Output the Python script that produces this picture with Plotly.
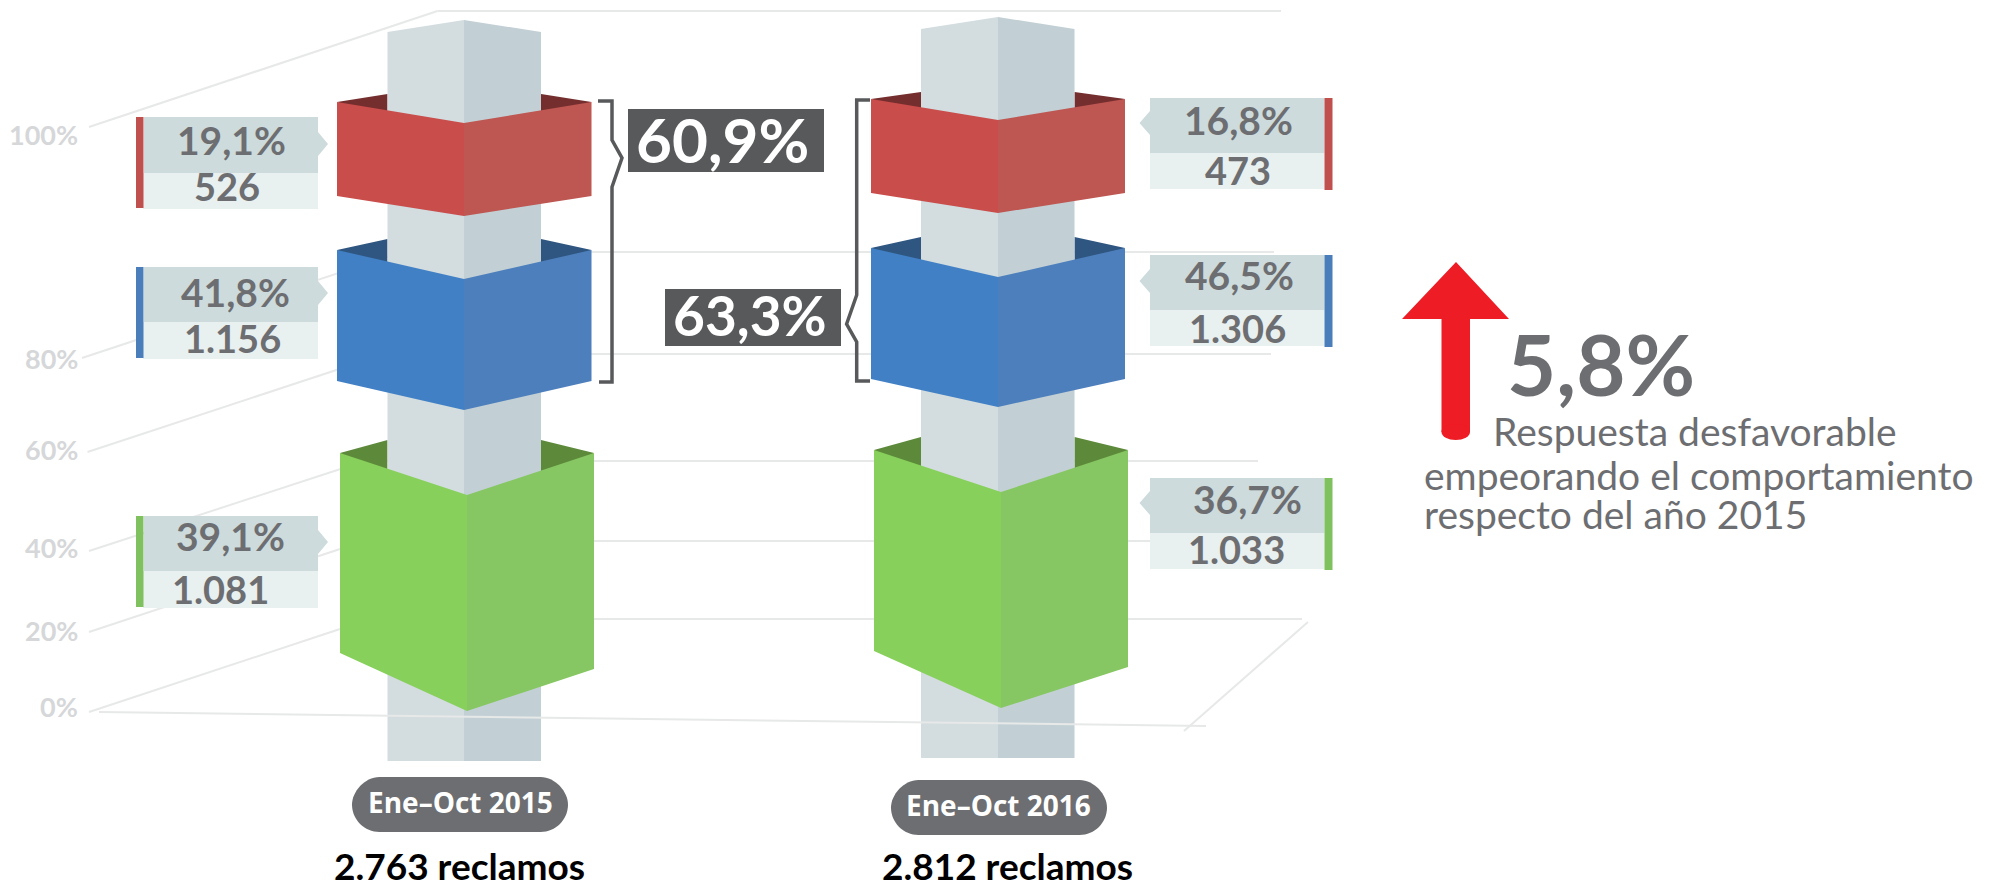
import plotly.graph_objects as go

# ---------- DATA ----------
periods = ["Ene–Oct 2015", "Ene–Oct 2016"]
totals = [2763, 2812]
tier_names = ["Desfavorable alta", "Desfavorable media", "Favorable"]
pct_2015 = [19.1, 41.8, 39.1]
pct_2016 = [16.8, 46.5, 36.7]
count_2015 = [526, 1156, 1081]
count_2016 = [473, 1306, 1033]
sum_pct = [60.9, 63.3]
change_pct = 5.8
axis_labels = ["100%", "80%", "60%", "40%", "20%", "0%"]
note_lines = ["Respuesta desfavorable", "empeorando el comportamiento", "respecto del año 2015"]

# ---------- STYLE ----------
FONT = "Lato"
GREY = "#6d6e71"
DARK = "#58595b"
GRID = "#e7e8e8"
PANEL_UP = "#cddbdc"
PANEL_LOW = "#e9f0f0"
PILLAR_L = "#d3dcdf"
PILLAR_R = "#c2d0d5"
FACE_L = ["#c84d4b", "#4180c5", "#87d05b"]
FACE_R = ["#be5652", "#4d7fbc", "#87c763"]
BACK = ["#752e2e", "#2f5680", "#5d8a3a"]
BAR = ["#c0504d", "#4a7ebb", "#7fc15f"]

# ---------- LAYOUT GEOMETRY (infographic frame, pixel scale of the axes) ----------
pillars = [dict(l=387.5, c=464, r=541, side=32, top=20, bottom=761),
           dict(l=921, c=998, r=1074.5, side=29, top=17, bottom=758)]
# per tier: left, centre, right, top side, top centre, bottom left, bottom centre, bottom right, back
boxes = [
    [(337, 464, 591.5, 102, 123, 196, 216, 196, 94),
     (337, 464, 591.5, 250, 279, 381, 410, 381, 239),
     (340, 467, 594, 453, 495, 653, 711, 669, 440)],
    [(871, 998, 1125, 99, 120, 193, 213, 193, 92),
     (871, 998, 1125, 248, 277, 379, 407, 379, 237),
     (874, 1001, 1128, 450, 492, 651, 708, 667, 437)],
]
back_lines = [([437.5, 1281], [11, 11]), ([402, 1274], [252, 252]), ([385, 1271], [354, 354]),
              ([365, 1258], [461, 461]), ([340, 1265], [541, 541]), ([340, 1302], [619, 619]),
              ([89, 437.5], [127, 11]), ([82, 402], [358, 252]), ([87.5, 385], [452, 354]),
              ([89, 365], [551, 461]), ([89, 340], [632, 549]), ([89, 340], [712, 629]),
              ([1308, 1184], [622, 731])]
floor_line = ([99, 1206], [712, 726])
axis_y = [134, 358, 449, 547, 630, 706]
axis_r = 80
# left panels: y top, split, bottom, tip, pct text x,y, count text x,y
panels_left = [(117, 173, 208, 144, 231, 140, 227, 186),
               (267, 322, 358, 293, 235.5, 292, 232, 338),
               (516, 571, 607, 542, 230, 536, 220, 589)]
panels_right = [(98, 153, 189, 123, 1238.7, 120, 1238, 170),
                (255, 310, 346, 281, 1239, 275, 1237, 328),
                (478, 533, 569, 503, 1247, 499, 1236, 549)]

traces = []
ann = []


def poly(xs, ys, color):
    traces.append(go.Scatter(x=list(xs), y=list(ys), mode="lines", fill="toself", fillcolor=color,
                             line=dict(width=0, color=color), hoverinfo="skip", showlegend=False))


def line(xs, ys, color, width):
    traces.append(go.Scatter(x=list(xs), y=list(ys), mode="lines", line=dict(width=width, color=color),
                             hoverinfo="skip", showlegend=False))


def text(x, y, s, size, color=GREY, bold=True, anchor="center", family=FONT):
    ann.append(dict(x=x, y=y, xref="x", yref="y", text=f"<b>{s}</b>" if bold else s, showarrow=False,
                    xanchor=anchor, yanchor="middle", align="left",
                    font=dict(family=family, size=size, color=color)))


def es_pct(v):
    return f"{v:.1f}".replace(".", ",") + "%"


def es_int(n):
    return f"{n:,}".replace(",", ".")


# grid behind the columns
for xs, ys in back_lines:
    line(xs, ys, GRID, 2)

# columns
for p, tiers in zip(pillars, boxes):
    for i, (L, C, R, ts, tc, bl, bc, br, bk) in enumerate(tiers):
        poly([L, p["l"], p["l"]], [ts, bk, tc], BACK[i])
        poly([R, p["r"], p["r"]], [ts, bk, tc], BACK[i])
    poly([p["l"], p["c"], p["c"], p["l"]], [p["side"], p["top"], p["bottom"], p["bottom"]], PILLAR_L)
    poly([p["c"], p["r"], p["r"], p["c"]], [p["top"], p["side"], p["bottom"], p["bottom"]], PILLAR_R)

line(floor_line[0], floor_line[1], GRID, 2)

for tiers in boxes:
    for i, (L, C, R, ts, tc, bl, bc, br, bk) in enumerate(tiers):
        poly([L, C, C, L], [ts, tc, bc, bl], FACE_L[i])
        poly([C, R, R, C], [tc, ts, br, bc], FACE_R[i])

# value panels
for i, (t, m, b, tip, px, py, cx, cy) in enumerate(panels_left):
    poly([144, 318, 318, 328, 318, 318, 144], [t, t, tip - 12, tip, tip + 12, m, m], PANEL_UP)
    poly([143, 318, 318, 143], [m, m, b + 1, b + 1], PANEL_LOW)
    poly([136, 143.5, 143.5, 136], [t, t, b, b], BAR[i])
    text(px, py, es_pct(pct_2015[i]), 39)
    text(cx, cy, es_int(count_2015[i]), 38)

for i, (t, m, b, tip, px, py, cx, cy) in enumerate(panels_right):
    poly([1324.5, 1150, 1150, 1139.5, 1150, 1150, 1324.5], [t, t, tip - 12, tip, tip + 12, m, m], PANEL_UP)
    poly([1150, 1324.5, 1324.5, 1150], [m, m, b, b], PANEL_LOW)
    poly([1324.5, 1332.5, 1332.5, 1324.5], [t, t, b + 1, b + 1], BAR[i])
    text(px, py, es_pct(pct_2016[i]), 39)
    text(cx, cy, es_int(count_2016[i]), 38)

# brackets and sum boxes
line([598, 612, 612, 622, 612, 612, 599], [101, 101, 140, 158, 187, 382, 382], DARK, 3.5)
line([870, 856.7, 856.7, 846.6, 856.7, 856.7, 870], [100, 100, 295, 324, 342, 381, 381], DARK, 3.5)
poly([628, 824, 824, 628], [109, 109, 172, 172], DARK)
poly([665, 841, 841, 665], [289, 289, 346, 346], DARK)
text(722, 139, es_pct(sum_pct[0]), 62, "#ffffff")
text(750, 315, es_pct(sum_pct[1]), 55, "#ffffff")

# arrow
poly([1456, 1509, 1470, 1470, 1441.5, 1441.5, 1402], [262, 319, 319, 432, 432, 319, 319], "#ee1c25")

# axis labels
for y, s in zip(axis_y, axis_labels):
    text(axis_r, y, s, 27, "#d6d7d9", anchor="right")

# period pills and totals
pills = [(352, 568, 777, 832), (891, 1107, 780, 835)]
shapes = []
for (x0, x1, y0, y1) in pills:
    r = (y1 - y0) / 2
    shapes.append(dict(type="path", xref="x", yref="y", line=dict(width=0), fillcolor=GREY, layer="above",
                       path=f"M{x0+r},{y0} L{x1-r},{y0} C{x1-r*0.45},{y0} {x1},{y0+r*0.55} {x1},{y0+r} "
                            f"C{x1},{y1-r*0.45} {x1-r*0.45},{y1} {x1-r},{y1} L{x0+r},{y1} "
                            f"C{x0+r*0.45},{y1} {x0},{y1-r*0.45} {x0},{y1-r} "
                            f"C{x0},{y0+r*0.55} {x0+r*0.45},{y0} {x0+r},{y0} Z"))
shapes.append(dict(type="circle", xref="x", yref="y", x0=1441.5, x1=1470, y0=424, y1=440,
                   fillcolor="#ee1c25", line=dict(width=0), layer="above"))

text(460, 802, periods[0], 28, "#ffffff", family="Open Sans")
text(998, 805, periods[1], 28, "#ffffff", family="Open Sans")
text(459, 865.5, es_int(totals[0]) + " reclamos", 37, "#000000")
text(1007.5, 865, es_int(totals[1]) + " reclamos", 37, "#000000")

# note
text(1505, 363, es_pct(change_pct), 85, anchor="left")
text(1491, 431, note_lines[0], 39, bold=False, anchor="left")
text(1421.5, 475, note_lines[1], 39, bold=False, anchor="left")
text(1422, 514, note_lines[2], 39, bold=False, anchor="left")

fig = go.Figure(traces)
fig.update_layout(
    width=1990, height=888, margin=dict(l=0, r=0, t=0, b=0),
    paper_bgcolor="white", plot_bgcolor="white", showlegend=False,
    xaxis=dict(range=[0, 1990], visible=False, fixedrange=True),
    yaxis=dict(range=[888, 0], visible=False, fixedrange=True),
    annotations=ann, shapes=shapes,
)
fig.write_html("out.html", config=dict(displayModeBar=False),
               post_script="document.body.style.margin='0';document.documentElement.style.overflow='hidden';")
